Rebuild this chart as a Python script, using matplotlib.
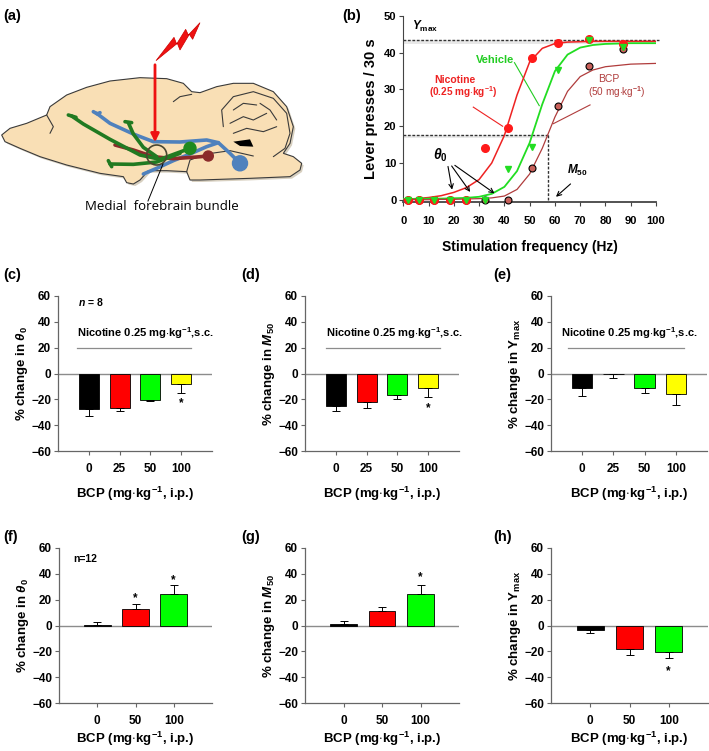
import numpy as np
import matplotlib
matplotlib.use('Agg')
import matplotlib.pyplot as plt
from matplotlib.patches import Polygon, Circle

plt.rcParams['font.family'] = ['Liberation Sans', 'DejaVu Sans']
plt.rcParams['font.weight'] = 'bold'
plt.rcParams['mathtext.fontset'] = 'custom'
plt.rcParams['mathtext.rm'] = 'Liberation Sans:bold'
plt.rcParams['mathtext.it'] = 'Liberation Sans:italic:bold'
plt.rcParams['mathtext.bf'] = 'Liberation Sans:bold'

W, H = 709, 751

# ---- panel (b) data: lever presses vs stimulation frequency
freq = [2, 6.2, 12.3, 18.5, 25, 32.3, 41.3, 50.8, 61.3, 73.4, 87]
nicotine_pts = [0, 0, 0, 0, 0, 14.2, 19.4, 38.5, 42.7, 43.7, 42.4]
vehicle_pts = [0, 0, 0, 0, 0, 0, 8.4, 14.3, 35.2, 43.6, 41.5]
bcp_pts = [0, 0, 0, 0, 0, 0, 0, 8.7, 25.5, 36.4, 41.0]

freq_fit = [0, 5, 10, 15, 20, 25, 30, 35, 40, 45, 50, 55, 60, 65, 70, 75, 80, 90, 100]
nicotine_fit = [0.1, 0.3, 0.6, 1.1, 2.0, 3.3, 5.5, 10, 17.5, 28.5, 37.5, 41.2, 42.5, 42.9, 43, 43.1, 43.1, 43.1, 43.1]
vehicle_fit = [0.2, 0.2, 0.3, 0.3, 0.4, 0.5, 0.8, 1.6, 3.5, 7.8, 15.5, 26, 35, 39.5, 41.4, 42.1, 42.4, 42.6, 42.6]
bcp_fit = [0, 0, 0, 0.1, 0.1, 0.2, 0.3, 0.5, 1, 2.8, 7, 14, 22.5, 29.5, 33.5, 35.3, 36.2, 36.9, 37.1]

y_max = 43.5
half_y = 17.6
m50 = 57.4

# ---- bar panels (c)-(e): BCP + nicotine
doses4 = ['0', '25', '50', '100']
colors4 = ['#000000', '#ff0000', '#00ff00', '#ffff00']
theta_nic = [-27.2, -26.4, -20.2, -7.8]
theta_nic_err = [5.4, 2.8, 1.3, 7.2]
m50_nic = [-25.4, -22.0, -16.8, -11.6]
m50_nic_err = [3.8, 4.4, 2.9, 6.5]
ymax_nic = [-10.9, -0.5, -11.6, -15.5]
ymax_nic_err = [6.7, 2.9, 3.4, 9.1]

# ---- bar panels (f)-(h): BCP alone
doses3 = ['0', '50', '100']
colors3 = ['#000000', '#ff0000', '#00ff00']
theta_bcp = [0.3, 12.7, 24.7]
theta_bcp_err = [2.2, 3.9, 6.5]
m50_bcp = [1.0, 10.9, 24.7]
m50_bcp_err = [2.6, 3.4, 6.7]
ymax_bcp = [-3.4, -18.4, -20.3]
ymax_bcp_err = [2.1, 4.5, 5.2]

fig = plt.figure(figsize=(W / 100, H / 100), dpi=100)


def px_axes(left, top, right, bottom):
    return fig.add_axes([left / W, 1 - bottom / H, (right - left) / W, (bottom - top) / H])


def panel_label(x, y, s):
    fig.text(x / W, 1 - y / H, s, fontsize=10.5, fontweight='bold', va='center', ha='left')


XLAB = 'BCP (mg$\\cdot$kg$^{-1}$, i.p.)'


def bar_panel(ax, labels, vals, errs, cols, ylabel, width, xlab_pad=5):
    pos = np.arange(len(labels))
    ax.bar(pos, vals, width=width, color=cols, edgecolor='black', linewidth=0.6, zorder=3)
    lo = [e if v < 0 else 0 for v, e in zip(vals, errs)]
    hi = [e if v >= 0 else 0 for v, e in zip(vals, errs)]
    ax.errorbar(pos, vals, yerr=[lo, hi], fmt='none', ecolor='black', elinewidth=0.7,
                capsize=3, capthick=0.7, zorder=4)
    ax.axhline(0, color='#8c8c8c', lw=1.0, zorder=2)
    ax.set_xlim(-1, len(labels))
    ax.set_ylim(-60, 60)
    ax.set_yticks([-60, -40, -20, 0, 20, 40, 60])
    ax.set_xticks(pos)
    ax.set_xticklabels(labels)
    for s in ['top', 'right']:
        ax.spines[s].set_visible(False)
    for s in ['left', 'bottom']:
        ax.spines[s].set_color('#666666')
        ax.spines[s].set_linewidth(0.9)
    ax.tick_params(direction='out', length=3, width=0.8, color='#666666', labelsize=8.5, pad=2)
    ax.tick_params(axis='x', pad=6)
    for t in ax.get_xticklabels() + ax.get_yticklabels():
        t.set_fontweight('bold')
    ax.set_ylabel(ylabel, fontsize=9.5, fontweight='bold', labelpad=1)
    ax.set_xlabel(XLAB, fontsize=9.5, fontweight='bold', labelpad=xlab_pad)


def nic_note(ax, xc, x0, x1):
    ax.text(xc, 31, 'Nicotine 0.25 mg$\\cdot$kg$^{-1}$,s.c.', fontsize=8, fontweight='bold',
            ha='center', va='center')
    ax.plot([x0, x1], [20, 20], color='#8c8c8c', lw=0.9)


# ================= panel (a): brain sketch (pixel coordinates)
axa = px_axes(0, 0, 350, 290)
axa.set_xlim(0, 350)
axa.set_ylim(290, 0)
axa.axis('off')

brain = np.array([(5, 405), (30, 385), (80, 370), (140, 345), (150, 320), (200, 285), (260, 262),
                  (330, 243), (420, 233), (500, 236), (550, 250), (575, 275), (600, 278), (650, 260),
                  (700, 250), (760, 250), (820, 275), (860, 320), (880, 380), (870, 430), (850, 460),
                  (880, 470), (905, 490), (900, 510), (870, 530), (750, 535), (600, 540), (570, 540),
                  (560, 515), (500, 512), (445, 512), (420, 540), (400, 552), (380, 548), (370, 530),
                  (300, 520), (200, 495), (120, 470), (60, 445), (15, 425)]) / 3.0
axa.add_patch(Polygon(brain + [2, 2], closed=True, facecolor='#d8d0c0', edgecolor='none', zorder=1))
axa.add_patch(Polygon(brain, closed=True, facecolor='#f9dfb5', edgecolor='#3a3a3a', lw=0.8, zorder=2))

def sketch(pts, **kw):
    p = np.array(pts) / 3.0
    axa.plot(p[:, 0], p[:, 1], solid_capstyle='round', **kw)

line_kw = dict(color='#3a3a3a', lw=0.8, zorder=3)
sketch([(140, 345), (160, 380), (150, 400)], **line_kw)
sketch([(520, 305), (540, 290), (575, 283)], **line_kw)
sketch([(670, 380), (665, 330), (700, 290), (760, 275), (820, 295), (860, 340), (870, 400),
        (855, 445), (820, 470)], **line_kw)
sketch([(560, 515), (570, 480), (620, 462), (690, 452), (760, 468)], **line_kw)
sketch([(700, 330), (730, 310), (770, 315)], **line_kw)
sketch([(690, 370), (730, 350), (760, 360), (800, 340)], **line_kw)
sketch([(700, 400), (740, 385), (790, 395), (830, 380)], **line_kw)
sketch([(780, 310), (810, 330), (830, 360)], **line_kw)
axa.add_patch(Polygon(np.array([(700, 425), (750, 418), (760, 440), (720, 438)]) / 3.0,
                      closed=True, facecolor='black', edgecolor='none', zorder=3))

fib = dict(lw=2.6, zorder=4)
sketch([(290, 340), (330, 370), (400, 402), (460, 425), (540, 426), (620, 420), (655, 428),
        (690, 460), (720, 490)], color='#4f81bd', **fib)
sketch([(430, 522), (470, 505), (520, 482), (570, 462), (620, 440), (655, 428)], color='#4f81bd', **fib)
sketch([(280, 335), (292, 342), (300, 338)], color='#4f81bd', **fib)
sketch([(345, 435), (400, 450), (460, 470), (520, 476), (590, 471), (625, 468)], color='#8b2a2a', **fib)
sketch([(215, 348), (250, 372), (330, 418), (420, 465), (480, 478), (540, 456), (570, 445)],
       color='#217a21', **fib)
sketch([(385, 368), (400, 402), (430, 442), (470, 470)], color='#217a21', **fib)
sketch([(330, 492), (400, 493), (470, 486), (540, 460)], color='#217a21', **fib)
for a, b in [((205, 345), (228, 352)), ((375, 365), (395, 368)), ((325, 482), (335, 500))]:
    sketch([a, b], color='#217a21', **fib)
axa.add_patch(Circle((190, 148.3), 6, color='#1f8a1f', zorder=5))
axa.add_patch(Circle((240, 163.3), 7.5, color='#4f81bd', zorder=5))
axa.add_patch(Circle((208.3, 156), 5, color='#8b2a2a', zorder=4))
axa.add_patch(Circle((156.7, 155), 10, facecolor='none', edgecolor='#4a4630', lw=1.2, zorder=6))

bolt = np.array([(468, 182), (522, 112), (530, 132), (557, 88), (565, 105), (600, 68),
                 (578, 118), (568, 103), (540, 150), (532, 130)]) / 3.0
axa.add_patch(Polygon(bolt, closed=True, facecolor='#ee1111', edgecolor='#cc0000', lw=0.5, zorder=5))
axa.annotate('', xy=(155, 145), xytext=(155, 62),
             arrowprops=dict(arrowstyle='-|>', color='#ee1111', lw=2.0, mutation_scale=12), zorder=6)
axa.plot([148, 163], [201, 164], color='black', lw=0.7, zorder=6)
axa.text(162, 207, 'Medial  forebrain bundle', fontsize=9.5, fontweight='normal', family='Open Sans',
         ha='center', va='center')

# ================= panel (b)
axb = px_axes(403.3, 16, 656, 202.3)
axb.fill_between([0, 100], 42.3, y_max, color='#e8e8e8', lw=0, zorder=1)
axb.fill_between([0, m50], 16.8, half_y, color='#e8e8e8', lw=0, zorder=1)
axb.plot([0, 101], [y_max, y_max], ls=(0, (2, 1.2)), color='#333333', lw=1.0, zorder=2, clip_on=False)
axb.plot([0, m50], [half_y, half_y], ls=(0, (2, 1.2)), color='#333333', lw=1.0, zorder=2)
axb.plot([m50, m50], [half_y, 0], ls=(0, (2, 1.2)), color='#333333', lw=1.0, zorder=2)

axb.plot(freq_fit, nicotine_fit, color='#ee2222', lw=1.1, zorder=3)
axb.plot(freq_fit, vehicle_fit, color='#22dd22', lw=1.3, zorder=3)
axb.plot(freq_fit, bcp_fit, color='#b03c3c', lw=0.9, zorder=3)
axb.plot(freq, bcp_pts, 'o', ms=5, mfc='#c8605a', mec='black', mew=0.8, zorder=4, clip_on=False)
axb.plot(freq, nicotine_pts, 'o', ms=5.5, mfc='#ff1a1a', mec='#ff1a1a', zorder=5, clip_on=False)
axb.plot(freq, vehicle_pts, 'v', ms=5, mfc='#22dd22', mec='#22dd22', zorder=6, clip_on=False)

axb.text(20.4, 32.6, 'Nicotine', color='#ee2222', fontsize=7.5, fontweight='bold', ha='center', va='center')
axb.text(23.8, 29.3, '(0.25 mg$\\cdot$kg$^{-1}$)', color='#ee2222', fontsize=7.2, fontweight='bold',
         ha='center', va='center')
axb.plot([27.7, 39.3], [25.2, 20.0], color='#ee2222', lw=0.8)
axb.text(36.3, 37.9, 'Vehicle', color='#22cc22', fontsize=8, fontweight='bold', ha='center', va='center')
axb.plot([44.0, 53.8], [37.3, 25.6], color='#22cc22', lw=0.8)
axb.text(81.3, 32.8, 'BCP', color='#b03c3c', fontsize=7.5, fontweight='normal', ha='center', va='center')
axb.text(84.4, 29.2, '(50 mg$\\cdot$kg$^{-1}$)', color='#b03c3c', fontsize=7.2, fontweight='normal',
         ha='center', va='center')
axb.plot([73.9, 59.4], [25.8, 20.7], color='#b03c3c', lw=0.8)
axb.text(3.5, 47.2, '$Y_{\\mathrm{max}}$', fontsize=8.5, ha='left', va='center')
axb.text(14.8, 12.2, '$\\theta_0$', fontsize=10, ha='center', va='center')
for (x0, y0), (x1, y1) in [((17.5, 9.8), (19.5, 2.0)), ((18.5, 9.8), (27.1, 1.5)), ((19.5, 9.8), (37.0, 1.3))]:
    axb.annotate('', xy=(x1, y1), xytext=(x0, y0),
                 arrowprops=dict(arrowstyle='->', color='black', lw=0.8, mutation_scale=8))
axb.text(68.9, 7.9, '$M_{50}$', fontsize=8.5, ha='center', va='center')
axb.annotate('', xy=(59.6, 0.3), xytext=(67, 4.8),
             arrowprops=dict(arrowstyle='->', color='black', lw=0.8, mutation_scale=8))

axb.set_xlim(0, 100)
axb.set_ylim(-0.7, 50)
axb.set_xticks(range(0, 101, 10))
axb.set_yticks(range(0, 51, 10))
for s in ['top', 'right']:
    axb.spines[s].set_visible(False)
axb.spines['left'].set_bounds(0, 50)
for s in ['left', 'bottom']:
    axb.spines[s].set_color('#444444')
axb.spines['bottom'].set_linewidth(1.3)
axb.tick_params(direction='out', length=3, width=0.8, color='#444444', labelsize=8, pad=2)
axb.tick_params(axis='x', pad=7)
for t in axb.get_xticklabels() + axb.get_yticklabels():
    t.set_fontweight('bold')
axb.set_ylabel('Lever presses / 30 s', fontsize=10.5, fontweight='bold', labelpad=4)
axb.set_xlabel('Stimulation frequency (Hz)', fontsize=10, fontweight='bold', labelpad=10)

# ================= panels (c)-(e)
axc = px_axes(58, 296, 212, 451)
bar_panel(axc, doses4, theta_nic, theta_nic_err, colors4, '% change in $\\theta_0$', 0.65, xlab_pad=7)
nic_note(axc, 1.84, -0.37, 3.33)
axc.text(-0.35, 55, '$n$ = 8', fontsize=7.5, ha='left', va='center')
axc.text(3, -22.8, '*', fontsize=8.5, ha='center', va='center')

axd = px_axes(305, 296, 459, 451)
bar_panel(axd, doses4, m50_nic, m50_nic_err, colors4, '% change in $M_{50}$', 0.65, xlab_pad=7)
nic_note(axd, 1.9, -0.32, 3.39)
axd.text(3, -26.8, '*', fontsize=8.5, ha='center', va='center')

axe = px_axes(551, 296, 707, 451)
bar_panel(axe, doses4, ymax_nic, ymax_nic_err, colors4, '% change in Y$_{\\mathrm{max}}$', 0.65, xlab_pad=7)
nic_note(axe, 1.52, -0.44, 3.26)

# ================= panels (f)-(h)
axf = px_axes(59, 548, 212, 703)
bar_panel(axf, doses3, theta_bcp, theta_bcp_err, colors3, '% change in $\\theta_0$', 0.7, xlab_pad=2)
axf.text(-0.62, 51.5, 'n=12', fontsize=7.5, ha='left', va='center')
axf.text(1, 21.5, '*', fontsize=8.5, ha='center', va='center')
axf.text(2, 35, '*', fontsize=8.5, ha='center', va='center')

axg = px_axes(305, 548, 459, 703)
bar_panel(axg, doses3, m50_bcp, m50_bcp_err, colors3, '% change in $M_{50}$', 0.7, xlab_pad=2)
axg.text(2, 37.5, '*', fontsize=8.5, ha='center', va='center')

axh = px_axes(551, 548, 708, 703)
bar_panel(axh, doses3, ymax_bcp, ymax_bcp_err, colors3, '% change in Y$_{\\mathrm{max}}$', 0.7, xlab_pad=2)
axh.text(2, -35.5, '*', fontsize=8.5, ha='center', va='center')

panel_label(3, 16, '(a)')
panel_label(342, 16, '(b)')
panel_label(3, 275, '(c)')
panel_label(241, 275, '(d)')
panel_label(493, 275, '(e)')
panel_label(3, 537, '(f)')
panel_label(241, 537, '(g)')
panel_label(493, 537, '(h)')

fig.savefig('out.png', dpi=100)
